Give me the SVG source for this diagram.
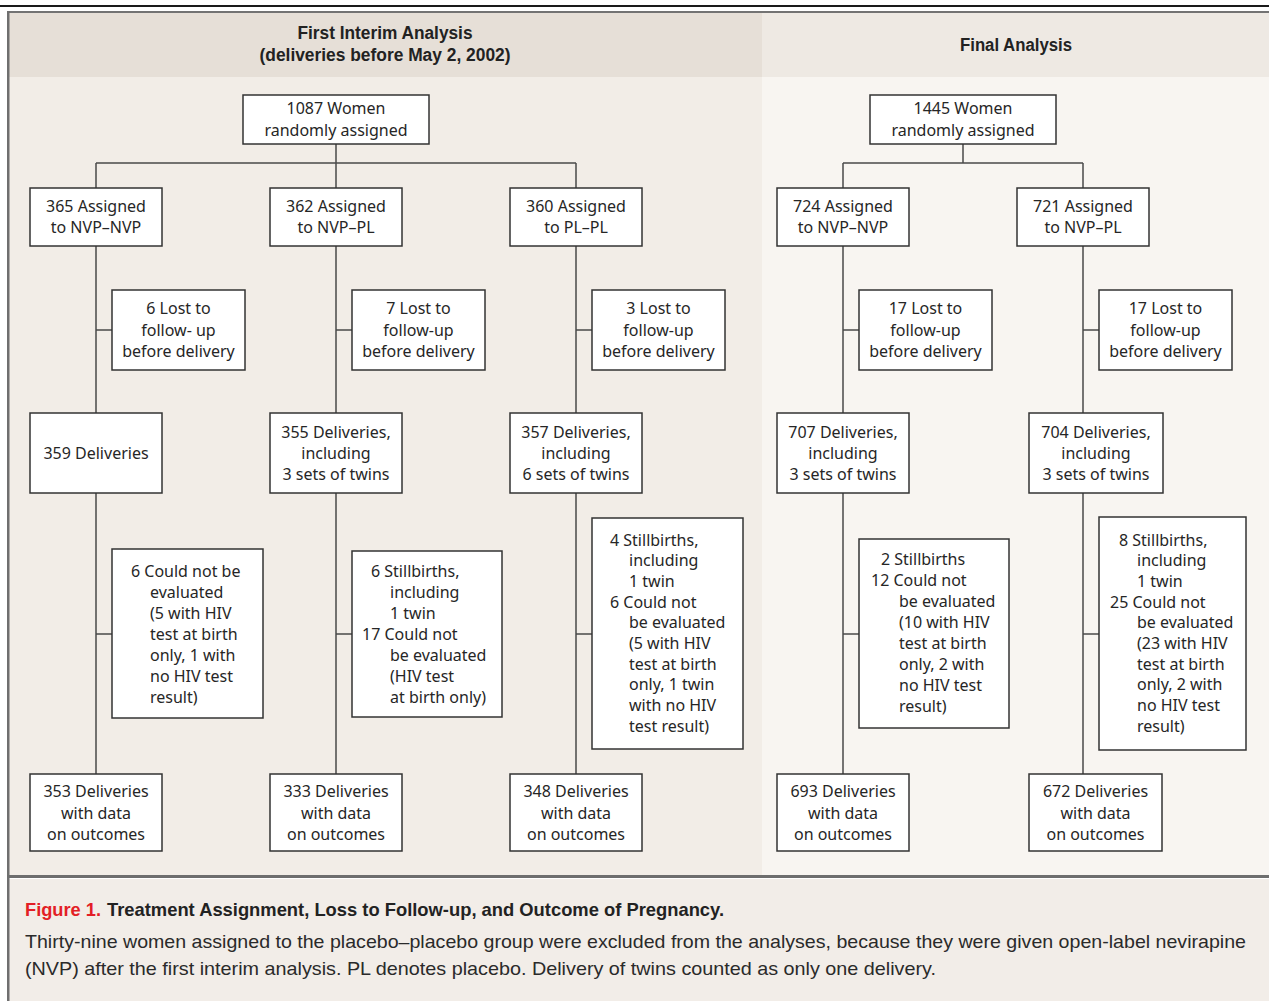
<svg xmlns="http://www.w3.org/2000/svg" width="1269" height="1001" viewBox="0 0 1269 1001">
<style>
.box{fill:#ffffff;stroke:#333333;stroke-width:1.5}
.t{font-family:"Noto Sans","Open Sans","DejaVu Sans",sans-serif;font-size:16px;fill:#262626}
.c{text-anchor:middle}
.hd{font-family:"Liberation Sans",Arial,sans-serif;font-weight:bold;font-size:18px;fill:#222222;text-anchor:middle}
.cap{font-family:"Liberation Sans",Arial,sans-serif;font-size:19px;fill:#2a2a2a}
.capb{font-family:"Liberation Sans",Arial,sans-serif;font-size:19px;font-weight:bold;fill:#222222}
.conn{stroke:#4a4a4a;stroke-width:1.5;fill:none}
</style>
<g id="background">
<rect x="0" y="0" width="1269" height="1001" fill="#ffffff"/>
<rect x="0" y="5" width="1269" height="2" fill="#1a1a1a"/>
<rect x="9" y="13" width="753" height="64" fill="#e6dfd7"/>
<rect x="762" y="13" width="507" height="64" fill="#eee9e3"/>
<rect x="9" y="77" width="753" height="798" fill="#f2ede7"/>
<rect x="762" y="77" width="507" height="798" fill="#f8f5f1"/>
<rect x="9" y="879" width="1260" height="122" fill="#f2ede8"/>
<rect x="7" y="11" width="1262" height="2" fill="#737373"/>
<rect x="7" y="11" width="2.5" height="990" fill="#6f6f6f"/>
<rect x="7" y="875" width="1262" height="3" fill="#6e6e6e"/>
</g>
<g id="headers">
<text class="hd" x="385" y="39" textLength="175" lengthAdjust="spacingAndGlyphs">First Interim Analysis</text>
<text class="hd" x="385" y="61" textLength="251" lengthAdjust="spacingAndGlyphs">(deliveries before May 2, 2002)</text>
<text class="hd" x="1016" y="51" textLength="112" lengthAdjust="spacingAndGlyphs">Final Analysis</text>
</g>
<g id="connectors">
<path class="conn" d="M336 144V163M96 163H576M96 163V188M336 163V188M576 163V188"/>
<path class="conn" d="M96 246V413M96 493V774M336 246V413M336 493V774M576 246V413M576 493V774"/>
<path class="conn" d="M96 330H112M336 330H352M576 330H592M96 634H112M336 634H352M576 634H592"/>
<path class="conn" d="M963 144V163M843 163H1083M843 163V188M1083 163V188"/>
<path class="conn" d="M843 246V413M843 493V774M1083 246V413M1083 493V774"/>
<path class="conn" d="M843 330H859M1083 330H1099M843 634H859M1083 634H1099"/>
</g>
<g id="n1087">
<rect class="box" x="243" y="95" width="186" height="49"/>
<text class="t c" x="336" y="113.5">1087 Women</text>
<text class="t c" x="336" y="135.5">randomly assigned</text>
</g>
<g id="n365">
<rect class="box" x="30" y="188" width="132" height="58"/>
<text class="t c" x="96" y="211.5">365 Assigned</text>
<text class="t c" x="96" y="232.5">to NVP–NVP</text>
</g>
<g id="n362">
<rect class="box" x="270" y="188" width="132" height="58"/>
<text class="t c" x="336" y="211.5">362 Assigned</text>
<text class="t c" x="336" y="232.5">to NVP–PL</text>
</g>
<g id="n360">
<rect class="box" x="510" y="188" width="132" height="58"/>
<text class="t c" x="576" y="211.5">360 Assigned</text>
<text class="t c" x="576" y="232.5">to PL–PL</text>
</g>
<g id="lost6">
<rect class="box" x="112" y="290" width="133" height="80"/>
<text class="t c" x="178.5" y="313.5">6 Lost to</text>
<text class="t c" x="178.5" y="335.5">follow- up</text>
<text class="t c" x="178.5" y="356.5">before delivery</text>
</g>
<g id="lost7">
<rect class="box" x="352" y="290" width="133" height="80"/>
<text class="t c" x="418.5" y="313.5">7 Lost to</text>
<text class="t c" x="418.5" y="335.5">follow-up</text>
<text class="t c" x="418.5" y="356.5">before delivery</text>
</g>
<g id="lost3">
<rect class="box" x="592" y="290" width="133" height="80"/>
<text class="t c" x="658.5" y="313.5">3 Lost to</text>
<text class="t c" x="658.5" y="335.5">follow-up</text>
<text class="t c" x="658.5" y="356.5">before delivery</text>
</g>
<g id="del359">
<rect class="box" x="30" y="413" width="132" height="80"/>
<text class="t c" x="96" y="458.5">359 Deliveries</text>
</g>
<g id="del355">
<rect class="box" x="270" y="413" width="132" height="80"/>
<text class="t c" x="336" y="437.5">355 Deliveries,</text>
<text class="t c" x="336" y="458.5">including</text>
<text class="t c" x="336" y="479.5">3 sets of twins</text>
</g>
<g id="del357">
<rect class="box" x="510" y="413" width="132" height="80"/>
<text class="t c" x="576" y="437.5">357 Deliveries,</text>
<text class="t c" x="576" y="458.5">including</text>
<text class="t c" x="576" y="479.5">6 sets of twins</text>
</g>
<g id="excl1">
<rect class="box" x="112" y="549" width="151" height="169"/>
<text class="t" x="131" y="576.5">6 Could not be</text>
<text class="t" x="150" y="597.5">evaluated</text>
<text class="t" x="150" y="618.5">(5 with HIV</text>
<text class="t" x="150" y="639.5">test at birth</text>
<text class="t" x="150" y="660.5">only, 1 with</text>
<text class="t" x="150" y="681.5">no HIV test</text>
<text class="t" x="150" y="702.5">result)</text>
</g>
<g id="excl2">
<rect class="box" x="352" y="551" width="150" height="166"/>
<text class="t" x="371" y="576.5">6 Stillbirths,</text>
<text class="t" x="390" y="597.5">including</text>
<text class="t" x="390" y="618.5">1 twin</text>
<text class="t" x="362" y="639.5">17 Could not</text>
<text class="t" x="390" y="660.5">be evaluated</text>
<text class="t" x="390" y="681.5">(HIV test</text>
<text class="t" x="390" y="702.5">at birth only)</text>
</g>
<g id="excl3">
<rect class="box" x="592" y="518" width="151" height="231"/>
<text class="t" x="610" y="545.5">4 Stillbirths,</text>
<text class="t" x="629" y="566.2">including</text>
<text class="t" x="629" y="586.9">1 twin</text>
<text class="t" x="610" y="607.6">6 Could not</text>
<text class="t" x="629" y="628.3">be evaluated</text>
<text class="t" x="629" y="649">(5 with HIV</text>
<text class="t" x="629" y="669.7">test at birth</text>
<text class="t" x="629" y="690.4">only, 1 twin</text>
<text class="t" x="629" y="711.1">with no HIV</text>
<text class="t" x="629" y="731.8">test result)</text>
</g>
<g id="out353">
<rect class="box" x="30" y="774" width="132" height="77"/>
<text class="t c" x="96" y="796.5">353 Deliveries</text>
<text class="t c" x="96" y="818.5">with data</text>
<text class="t c" x="96" y="839.5">on outcomes</text>
</g>
<g id="out333">
<rect class="box" x="270" y="774" width="132" height="77"/>
<text class="t c" x="336" y="796.5">333 Deliveries</text>
<text class="t c" x="336" y="818.5">with data</text>
<text class="t c" x="336" y="839.5">on outcomes</text>
</g>
<g id="out348">
<rect class="box" x="510" y="774" width="132" height="77"/>
<text class="t c" x="576" y="796.5">348 Deliveries</text>
<text class="t c" x="576" y="818.5">with data</text>
<text class="t c" x="576" y="839.5">on outcomes</text>
</g>
<g id="n1445">
<rect class="box" x="870" y="95" width="186" height="49"/>
<text class="t c" x="963" y="113.5">1445 Women</text>
<text class="t c" x="963" y="135.5">randomly assigned</text>
</g>
<g id="n724">
<rect class="box" x="777" y="188" width="132" height="58"/>
<text class="t c" x="843" y="211.5">724 Assigned</text>
<text class="t c" x="843" y="232.5">to NVP–NVP</text>
</g>
<g id="n721">
<rect class="box" x="1017" y="188" width="132" height="58"/>
<text class="t c" x="1083" y="211.5">721 Assigned</text>
<text class="t c" x="1083" y="232.5">to NVP–PL</text>
</g>
<g id="lost17a">
<rect class="box" x="859" y="290" width="133" height="80"/>
<text class="t c" x="925.5" y="313.5">17 Lost to</text>
<text class="t c" x="925.5" y="335.5">follow-up</text>
<text class="t c" x="925.5" y="356.5">before delivery</text>
</g>
<g id="lost17b">
<rect class="box" x="1099" y="290" width="133" height="80"/>
<text class="t c" x="1165.5" y="313.5">17 Lost to</text>
<text class="t c" x="1165.5" y="335.5">follow-up</text>
<text class="t c" x="1165.5" y="356.5">before delivery</text>
</g>
<g id="del707">
<rect class="box" x="777" y="413" width="132" height="80"/>
<text class="t c" x="843" y="437.5">707 Deliveries,</text>
<text class="t c" x="843" y="458.5">including</text>
<text class="t c" x="843" y="479.5">3 sets of twins</text>
</g>
<g id="del704">
<rect class="box" x="1029" y="413" width="134" height="80"/>
<text class="t c" x="1096" y="437.5">704 Deliveries,</text>
<text class="t c" x="1096" y="458.5">including</text>
<text class="t c" x="1096" y="479.5">3 sets of twins</text>
</g>
<g id="excl4">
<rect class="box" x="859" y="539" width="150" height="189"/>
<text class="t" x="881" y="564.5">2 Stillbirths</text>
<text class="t" x="871" y="585.5">12 Could not</text>
<text class="t" x="899" y="606.5">be evaluated</text>
<text class="t" x="899" y="627.5">(10 with HIV</text>
<text class="t" x="899" y="648.5">test at birth</text>
<text class="t" x="899" y="669.5">only, 2 with</text>
<text class="t" x="899" y="690.5">no HIV test</text>
<text class="t" x="899" y="711.5">result)</text>
</g>
<g id="excl5">
<rect class="box" x="1099" y="517" width="147" height="233"/>
<text class="t" x="1119" y="545.5">8 Stillbirths,</text>
<text class="t" x="1137" y="566.2">including</text>
<text class="t" x="1137" y="586.9">1 twin</text>
<text class="t" x="1110" y="607.6">25 Could not</text>
<text class="t" x="1137" y="628.3">be evaluated</text>
<text class="t" x="1137" y="649">(23 with HIV</text>
<text class="t" x="1137" y="669.7">test at birth</text>
<text class="t" x="1137" y="690.4">only, 2 with</text>
<text class="t" x="1137" y="711.1">no HIV test</text>
<text class="t" x="1137" y="731.8">result)</text>
</g>
<g id="out693">
<rect class="box" x="777" y="774" width="132" height="77"/>
<text class="t c" x="843" y="796.5">693 Deliveries</text>
<text class="t c" x="843" y="818.5">with data</text>
<text class="t c" x="843" y="839.5">on outcomes</text>
</g>
<g id="out672">
<rect class="box" x="1029" y="774" width="133" height="77"/>
<text class="t c" x="1095.5" y="796.5">672 Deliveries</text>
<text class="t c" x="1095.5" y="818.5">with data</text>
<text class="t c" x="1095.5" y="839.5">on outcomes</text>
</g>
<g id="caption">
<text class="capb" x="25" y="916" fill="#e31e26" style="fill:#e31e26" textLength="76" lengthAdjust="spacingAndGlyphs">Figure 1.</text>
<text class="capb" x="107" y="916" textLength="617" lengthAdjust="spacingAndGlyphs">Treatment Assignment, Loss to Follow-up, and Outcome of Pregnancy.</text>
<text class="cap" x="25" y="948" textLength="1221" lengthAdjust="spacingAndGlyphs">Thirty-nine women assigned to the placebo–placebo group were excluded from the analyses, because they were given open-label nevirapine</text>
<text class="cap" x="25" y="975" textLength="911" lengthAdjust="spacingAndGlyphs">(NVP) after the first interim analysis. PL denotes placebo. Delivery of twins counted as only one delivery.</text>
</g>
</svg>
